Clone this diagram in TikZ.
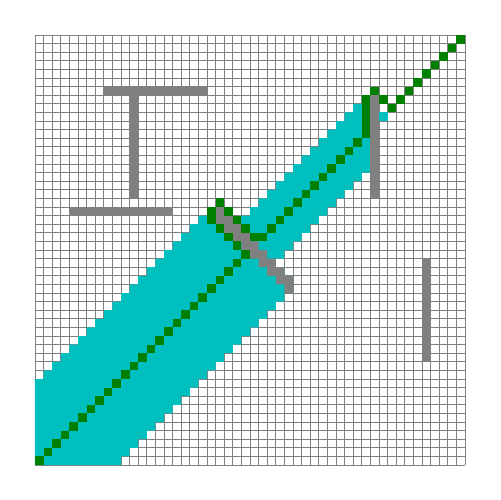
\documentclass[tikz,border=0pt]{standalone}
\definecolor{bandcyan}{HTML}{00BFBF}
\definecolor{pathgreen}{HTML}{008000}
\definecolor{wallgray}{HTML}{808080}
\tikzset{
  gridline/.style={draw=wallgray, line width=0.8pt},
  bandfill/.style={fill=bandcyan},
  wallfill/.style={fill=wallgray},
  pathfill/.style={fill=pathgreen},
}
\begin{document}
\begin{tikzpicture}[x=0.3cm,y=-0.3cm]
\useasboundingbox (-4.06977,-4.06977) rectangle (54.06977,54.06977);
\fill[white] (-4.06977,-4.06977) rectangle (54.06977,54.06977);
% grid
\foreach \i in {0,...,50}{
  \draw[gridline] (\i,0) -- (\i,50);
  \draw[gridline] (0,\i) -- (50,\i);
}
% lower band
\fill[bandfill] (20,20) -- (22,20) -- (22,21)
  \foreach \r in {21,...,28}{ -- (\r+2,\r) -- (\r+2,\r+1) }
  -- (30,30)
  \foreach \r in {30,...,49}{ -- (59-\r,\r) -- (59-\r,\r+1) }
  -- (0,50) -- (0,40)
  \foreach \r in {39,...,20}{ -- (40-\r,\r+1) -- (40-\r,\r) }
  -- cycle;
% upper band
\fill[bandfill] (38,7) -- (39,7) -- (39,16)
  \foreach \r in {16,...,25}{ -- (54-\r,\r) -- (54-\r,\r+1) }
  -- (20,26)
  \foreach \r in {25,...,7}{ -- (45-\r,\r+1) -- (45-\r,\r) }
  -- cycle;
\fill[bandfill] (40,9) rectangle (41,10);
% gray walls
\fill[wallfill] (8,6) rectangle (20,7);
\fill[wallfill] (11,6) rectangle (12,19);
\fill[wallfill] (4,20) rectangle (16,21);
\fill[wallfill] (39,7) rectangle (40,19);
\fill[wallfill] (45,26) rectangle (46,38);
\fill[wallfill] (21,20) -- (22,20)
  \foreach \m in {22,...,29}{ -- (\m,\m-1) -- (\m+1,\m-1) }
  -- (30,30)
  \foreach \m in {29,...,22}{ -- (\m,\m+1) -- (\m,\m) }
  -- (21,22) -- cycle;
% green path
\foreach \k in {0,...,24}{ \fill[pathfill] (\k,49-\k) rectangle ++(1,1); }
\foreach \k in {27,...,37}{ \fill[pathfill] (\k,49-\k) rectangle ++(1,1); }
\foreach \k in {43,...,49}{ \fill[pathfill] (\k,49-\k) rectangle ++(1,1); }
\foreach \c/\r in {23/24,22/23,21/22,21/19,22/20,23/21,24/22,39/6,40/7,41/8,42/7}{
  \fill[pathfill] (\c,\r) rectangle ++(1,1);
}
\fill[pathfill] (20,20) rectangle (21,22);
\fill[pathfill] (25,23) rectangle (27,24);
\fill[pathfill] (38,7) rectangle (39,12);
\end{tikzpicture}
\end{document}
